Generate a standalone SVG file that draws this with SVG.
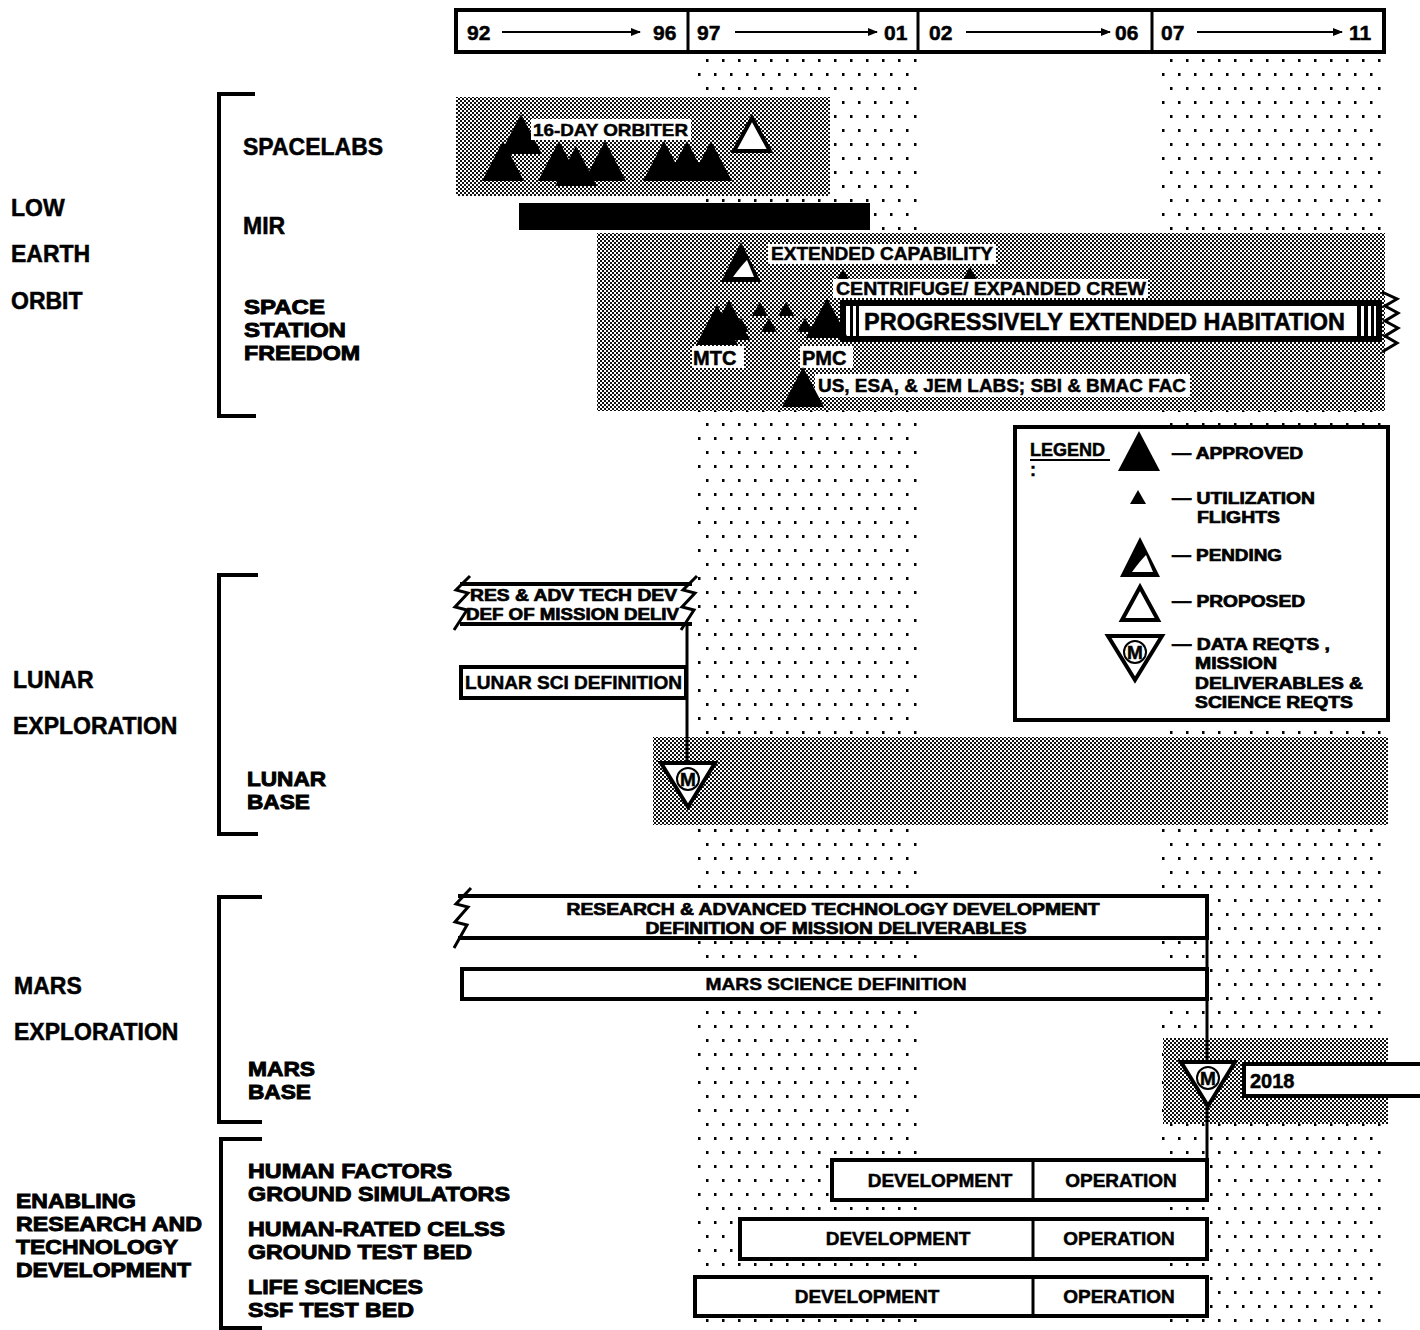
<svg xmlns="http://www.w3.org/2000/svg" xmlns:xlink="http://www.w3.org/1999/xlink" width="1420" height="1330" viewBox="0 0 1420 1330">
<style>
.t{font-family:"Liberation Sans",Arial,sans-serif;font-weight:bold;fill:#000;stroke:#000;stroke-width:0.5}
.lb{font-size:23px}
.st{font-size:20px;stroke-width:0.9}
.lg{font-size:16px;stroke-width:0.7}
.sm{font-size:18px}
.md{font-size:19px}
.ln{fill:none;stroke:#000;stroke-width:4}
.bx{fill:#fff;stroke:#000;stroke-width:4}
.wb{fill:#fff}
.zz{fill:none;stroke:#000;stroke-width:3;stroke-linejoin:miter}
</style>
<defs>
<pattern id="dots" width="16" height="28" patternUnits="userSpaceOnUse">
<rect x="2" y="3" width="2.5" height="3" fill="#000"/>
<rect x="10" y="17" width="2.5" height="3" fill="#000"/>
</pattern>
<pattern id="gray" width="4" height="4" patternUnits="userSpaceOnUse">
<rect width="4" height="4" fill="#fff"/>
<rect width="2" height="2" fill="#111"/>
<rect x="2" y="2" width="2" height="2" fill="#111"/>
</pattern>
<marker id="ah" markerWidth="10" markerHeight="8" refX="9" refY="4" orient="auto" markerUnits="userSpaceOnUse">
<path d="M0,0 L10,4 L0,8 Z" fill="#000"/>
</marker>
<polygon id="tri" points="0,0 -21,40 21,40" fill="#000"/>
<polygon id="utri" points="0,0 -8,14 8,14" fill="#000"/>
<polygon id="otri" points="0,0 -18,33 18,33" fill="#fff" stroke="#000" stroke-width="4" stroke-linejoin="miter"/>
<g id="ptri">
<polygon points="0,0 -20,40 20,40" fill="#000"/>
<path d="M-8,35 Q0,24 6,18 L13,35 Z" fill="#fff"/>
</g>
<g id="mtri">
<polygon points="-27,0 27,0 0,44" fill="#fff" stroke="#000" stroke-width="4" stroke-linejoin="miter"/>
<circle cx="0" cy="16" r="11" fill="none" stroke="#000" stroke-width="2"/>
<text x="0" y="23" text-anchor="middle" class="t" font-size="19">M</text>
</g>
</defs>
<rect width="1420" height="1330" fill="#fff"/>

<g id="background">
<rect x="693" y="53" width="228" height="1277" fill="url(#dots)"/>
<rect x="1157" y="53" width="228" height="1277" fill="url(#dots)"/>
<rect x="456" y="97" width="374" height="99" fill="url(#gray)"/>
<rect x="597" y="233" width="788" height="178" fill="url(#gray)"/>
<rect x="653" y="737" width="735" height="88" fill="url(#gray)"/>
<rect x="1163" y="1038" width="225" height="86" fill="url(#gray)"/>
</g>

<g id="timeline">
<rect x="456" y="10" width="928" height="42" class="bx"/>
<line x1="688" y1="10" x2="688" y2="52" stroke="#000" stroke-width="3"/>
<line x1="918" y1="10" x2="918" y2="52" stroke="#000" stroke-width="3"/>
<line x1="1152" y1="10" x2="1152" y2="52" stroke="#000" stroke-width="3"/>
<text x="467" y="40" class="t" font-size="21">92</text>
<text x="653" y="40" class="t" font-size="21">96</text>
<text x="697" y="40" class="t" font-size="21">97</text>
<text x="884" y="40" class="t" font-size="21">01</text>
<text x="929" y="40" class="t" font-size="21">02</text>
<text x="1115" y="40" class="t" font-size="21">06</text>
<text x="1161" y="40" class="t" font-size="21">07</text>
<text x="1349" y="40" class="t" font-size="21">11</text>
</g>

<g id="brackets">
<path d="M255,94 H219 V416 H256" class="ln"/>
<path d="M258,575 H219 V834 H258" class="ln"/>
<path d="M262,897 H219 V1122 H262" class="ln"/>
<path d="M262,1139 H221 V1328 H262" class="ln"/>
</g>

<g id="labels">
<text x="11" y="216" class="t lb">LOW</text>
<text x="11" y="262" class="t lb">EARTH</text>
<text x="11" y="309" class="t lb">ORBIT</text>
<text x="243" y="155" class="t lb">SPACELABS</text>
<text x="243" y="234" class="t lb">MIR</text>
<text x="244" y="314" class="t st" textLength="81" lengthAdjust="spacingAndGlyphs">SPACE</text>
<text x="244" y="337" class="t st" textLength="102" lengthAdjust="spacingAndGlyphs">STATION</text>
<text x="244" y="360" class="t st" textLength="116" lengthAdjust="spacingAndGlyphs">FREEDOM</text>
<text x="13" y="688" class="t lb">LUNAR</text>
<text x="13" y="734" class="t lb">EXPLORATION</text>
<text x="247" y="786" class="t st" textLength="79" lengthAdjust="spacingAndGlyphs">LUNAR</text>
<text x="247" y="809" class="t st" textLength="63" lengthAdjust="spacingAndGlyphs">BASE</text>
<text x="14" y="994" class="t lb">MARS</text>
<text x="14" y="1040" class="t lb">EXPLORATION</text>
<text x="248" y="1076" class="t st" textLength="67" lengthAdjust="spacingAndGlyphs">MARS</text>
<text x="248" y="1099" class="t st" textLength="63" lengthAdjust="spacingAndGlyphs">BASE</text>
<text x="16" y="1208" class="t st" textLength="120" lengthAdjust="spacingAndGlyphs">ENABLING</text>
<text x="16" y="1231" class="t st" textLength="186" lengthAdjust="spacingAndGlyphs">RESEARCH AND</text>
<text x="16" y="1254" class="t st" textLength="162" lengthAdjust="spacingAndGlyphs">TECHNOLOGY</text>
<text x="16" y="1277" class="t st" textLength="175" lengthAdjust="spacingAndGlyphs">DEVELOPMENT</text>
<text x="248" y="1178" class="t st" textLength="204" lengthAdjust="spacingAndGlyphs">HUMAN FACTORS</text>
<text x="248" y="1201" class="t st" textLength="262" lengthAdjust="spacingAndGlyphs">GROUND SIMULATORS</text>
<text x="248" y="1236" class="t st" textLength="257" lengthAdjust="spacingAndGlyphs">HUMAN-RATED CELSS</text>
<text x="248" y="1259" class="t st" textLength="224" lengthAdjust="spacingAndGlyphs">GROUND TEST BED</text>
<text x="248" y="1294" class="t st" textLength="175" lengthAdjust="spacingAndGlyphs">LIFE SCIENCES</text>
<text x="248" y="1317" class="t st" textLength="166" lengthAdjust="spacingAndGlyphs">SSF TEST BED</text>
</g>

<g id="spacelabs">
<use href="#tri" x="521" y="114"/>
<rect x="531" y="119" width="160" height="21" class="wb"/>
<text x="533" y="136" class="t" font-size="17" textLength="155" lengthAdjust="spacingAndGlyphs">16-DAY ORBITER</text>
<use href="#tri" x="503" y="141"/>
<use href="#tri" x="559" y="141"/>
<use href="#tri" x="576" y="146"/>
<use href="#tri" x="605" y="141"/>
<use href="#tri" x="664" y="141"/>
<use href="#tri" x="687" y="141"/>
<use href="#tri" x="711" y="141"/>
<use href="#otri" x="752" y="118"/>
</g>

<g id="mir">
<rect x="519" y="203" width="351" height="27" fill="#000"/>
</g>

<g id="ssf">
<use href="#ptri" x="741" y="242"/>
<rect x="768" y="244" width="228" height="20" class="wb"/>
<text x="771" y="260" class="t" font-size="18" textLength="222" lengthAdjust="spacingAndGlyphs">EXTENDED CAPABILITY</text>
<use href="#utri" x="843" y="269"/>
<use href="#utri" x="970" y="267"/>
<rect x="833" y="279" width="315" height="19" class="wb"/>
<text x="836" y="295" class="t" font-size="18" textLength="310" lengthAdjust="spacingAndGlyphs">CENTRIFUGE/ EXPANDED CREW</text>
<rect x="840" y="300" width="542" height="42" fill="#000"/>
<rect x="846" y="306" width="530" height="30" fill="#fff"/>
<rect x="850" y="306" width="3" height="30" fill="#000"/>
<rect x="856" y="306" width="3" height="30" fill="#000"/>
<rect x="1357" y="306" width="4" height="30" fill="#000"/>
<rect x="1364" y="306" width="4" height="30" fill="#000"/>
<rect x="1371" y="306" width="3" height="30" fill="#000"/>
<path d="M1382,292 L1397,299 L1385,306 L1398,313 L1385,321 L1398,328 L1385,336 L1397,343 L1382,352" class="zz"/>
<text x="864" y="330" class="t" font-size="23" textLength="481" lengthAdjust="spacingAndGlyphs">PROGRESSIVELY EXTENDED HABITATION</text>
<use href="#tri" x="729" y="300"/>
<use href="#tri" x="717" y="305"/>
<use href="#utri" x="760" y="302"/>
<use href="#utri" x="786" y="302"/>
<use href="#utri" x="741" y="318"/>
<use href="#utri" x="769" y="318"/>
<use href="#utri" x="805" y="318"/>
<use href="#tri" x="827" y="298"/>
<rect x="692" y="346" width="52" height="22" class="wb"/>
<text x="693" y="365" class="t" font-size="20">MTC</text>
<rect x="800" y="346" width="53" height="22" class="wb"/>
<text x="802" y="365" class="t" font-size="20">PMC</text>
<rect x="815" y="374" width="375" height="23" class="wb"/>
<text x="818" y="392" class="t md" textLength="368" lengthAdjust="spacingAndGlyphs">US, ESA, &amp; JEM LABS; SBI &amp; BMAC FAC</text>
<use href="#tri" x="803" y="367"/>
</g>

<g id="legend">
<rect x="1015" y="427" width="373" height="293" class="bx"/>
<text x="1030" y="456" class="t sm">LEGEND</text>
<line x1="1030" y1="460" x2="1110" y2="460" stroke="#000" stroke-width="2"/>
<text x="1030" y="476" class="t sm">:</text>
<use href="#tri" x="1139" y="431"/>
<text x="1172" y="459" class="t lg" textLength="131" lengthAdjust="spacingAndGlyphs">— APPROVED</text>
<use href="#utri" x="1138" y="490"/>
<text x="1172" y="504" class="t lg" textLength="143" lengthAdjust="spacingAndGlyphs">— UTILIZATION</text>
<text x="1197" y="523" class="t lg" textLength="83" lengthAdjust="spacingAndGlyphs">FLIGHTS</text>
<use href="#ptri" x="1140" y="537"/>
<text x="1172" y="561" class="t lg" textLength="110" lengthAdjust="spacingAndGlyphs">— PENDING</text>
<use href="#otri" x="1140" y="587"/>
<text x="1172" y="607" class="t lg" textLength="133" lengthAdjust="spacingAndGlyphs">— PROPOSED</text>
<use href="#mtri" x="1135" y="636"/>
<text x="1172" y="650" class="t lg" textLength="158" lengthAdjust="spacingAndGlyphs">— DATA REQTS ,</text>
<text x="1195" y="669" class="t lg" textLength="82" lengthAdjust="spacingAndGlyphs">MISSION</text>
<text x="1195" y="689" class="t lg" textLength="168" lengthAdjust="spacingAndGlyphs">DELIVERABLES &amp;</text>
<text x="1195" y="708" class="t lg" textLength="158" lengthAdjust="spacingAndGlyphs">SCIENCE REQTS</text>
</g>

<g id="lunar">
<rect x="462" y="584" width="226" height="40" fill="#fff"/>
<line x1="460" y1="584" x2="692" y2="584" stroke="#000" stroke-width="4"/>
<line x1="460" y1="624" x2="692" y2="624" stroke="#000" stroke-width="4"/>
<text x="470" y="601" class="t lg" textLength="207" lengthAdjust="spacingAndGlyphs">RES &amp; ADV TECH DEV</text>
<text x="466" y="620" class="t lg" textLength="213" lengthAdjust="spacingAndGlyphs">DEF OF MISSION DELIV</text>
<path d="M470,576 L456,590 L468,593 L455,607 L467,610 L454,630" class="zz"/>
<path d="M697,576 L683,590 L695,593 L682,607 L694,610 L681,630" class="zz"/>
<rect x="461" y="667" width="225" height="31" class="bx"/>
<text x="465" y="689" class="t md" textLength="217" lengthAdjust="spacingAndGlyphs">LUNAR SCI DEFINITION</text>
<use href="#mtri" x="688" y="763"/>
</g>

<g id="mars">
<rect x="462" y="896" width="745" height="42" fill="#fff"/>
<path d="M458,896 H1207 V938 H458" class="ln"/>
<path d="M471,888 L456,904 L468,907 L455,922 L467,925 L454,948" class="zz"/>
<text x="833" y="915" class="t lg" text-anchor="middle" textLength="533" lengthAdjust="spacingAndGlyphs">RESEARCH &amp; ADVANCED TECHNOLOGY DEVELOPMENT</text>
<text x="836" y="934" class="t lg" text-anchor="middle" textLength="381" lengthAdjust="spacingAndGlyphs">DEFINITION OF MISSION DELIVERABLES</text>
<rect x="462" y="969" width="745" height="30" class="bx"/>
<text x="836" y="990" class="t" font-size="17" text-anchor="middle" textLength="261" lengthAdjust="spacingAndGlyphs">MARS SCIENCE DEFINITION</text>
<use href="#mtri" x="1208" y="1062"/>
<rect x="1244" y="1064" width="180" height="32" fill="#fff"/>
<path d="M1420,1064 H1244 V1096 H1420" class="ln"/>
<text x="1250" y="1088" class="t" font-size="20">2018</text>
</g>

<g id="enabling">
<rect x="832" y="1160" width="375" height="40" class="bx"/>
<line x1="1033" y1="1160" x2="1033" y2="1200" stroke="#000" stroke-width="3"/>
<text x="940" y="1187" class="t md" text-anchor="middle">DEVELOPMENT</text>
<text x="1121" y="1187" class="t md" text-anchor="middle">OPERATION</text>
<rect x="740" y="1219" width="467" height="40" class="bx"/>
<line x1="1033" y1="1219" x2="1033" y2="1259" stroke="#000" stroke-width="3"/>
<text x="898" y="1245" class="t md" text-anchor="middle">DEVELOPMENT</text>
<text x="1119" y="1245" class="t md" text-anchor="middle">OPERATION</text>
<rect x="695" y="1277" width="512" height="39" class="bx"/>
<line x1="1033" y1="1277" x2="1033" y2="1316" stroke="#000" stroke-width="3"/>
<text x="867" y="1303" class="t md" text-anchor="middle">DEVELOPMENT</text>
<text x="1119" y="1303" class="t md" text-anchor="middle">OPERATION</text>
</g>

<g id="connectors">
<line x1="502" y1="32" x2="640" y2="32" stroke="#000" stroke-width="2" marker-end="url(#ah)"/>
<line x1="735" y1="32" x2="877" y2="32" stroke="#000" stroke-width="2" marker-end="url(#ah)"/>
<line x1="966" y1="32" x2="1110" y2="32" stroke="#000" stroke-width="2" marker-end="url(#ah)"/>
<line x1="1197" y1="32" x2="1342" y2="32" stroke="#000" stroke-width="2" marker-end="url(#ah)"/>
<line x1="687" y1="624" x2="687" y2="763" stroke="#000" stroke-width="3"/>
<line x1="1207" y1="938" x2="1207" y2="1062" stroke="#000" stroke-width="3"/>
<line x1="1207" y1="1106" x2="1207" y2="1160" stroke="#000" stroke-width="3"/>
</g>
</svg>
